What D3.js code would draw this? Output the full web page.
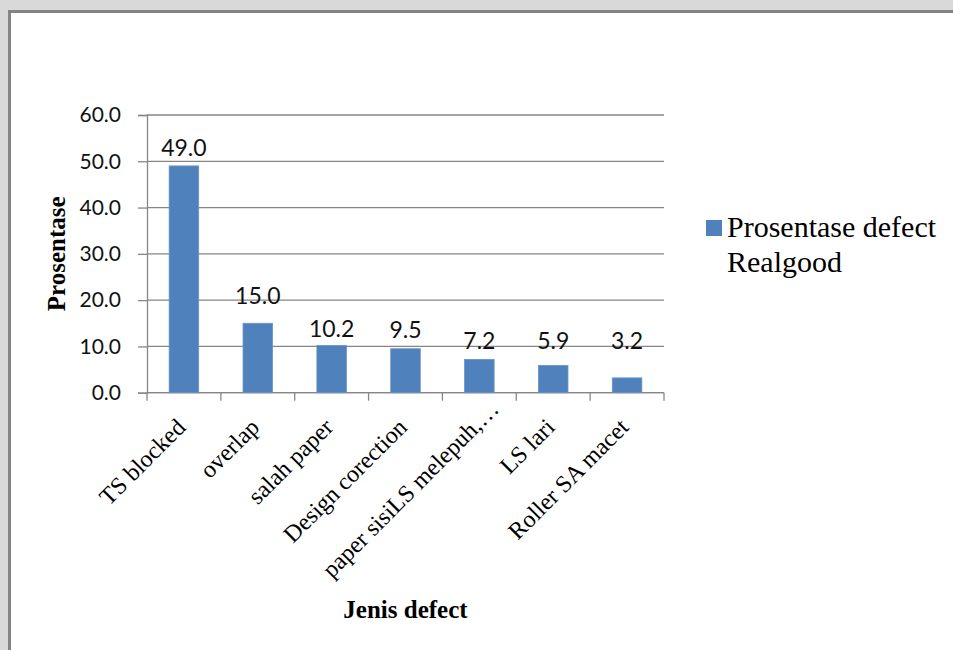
<!DOCTYPE html>
<html>
<head>
<meta charset="utf-8">
<script src="https://cdn.jsdelivr.net/npm/d3@7"></script>
<style>
  html, body { margin: 0; padding: 0; background: #d9d9d9; }
  svg { display: block; }
</style>
</head>
<body>
<svg id="chart" width="953" height="650"></svg>
<script>
// Defect categories and their share of all defects (%)
const categories = ["TS blocked", "overlap", "salah paper", "Design corection",
                    "paper sisiLS melepuh,…", "LS lari", "Roller SA macet"];
const percentages = [49.0, 15.0, 10.2, 9.5, 7.2, 5.9, 3.2];
const yTicks = [0, 10, 20, 30, 40, 50, 60];
const seriesName = ["Prosentase defect", "Realgood"];

// How far (px) each value label sits above its bar top
const labelLift = [10, 19, 8, 11, 10, 16, 29];

const svg = d3.select("#chart");

// Chart frame
svg.append("rect")
  .attr("x", 9.5).attr("y", 11.5)
  .attr("width", 960).attr("height", 660)
  .attr("fill", "#ffffff")
  .attr("stroke", "#848484").attr("stroke-width", 3);

const plot = { left: 147, right: 664, top: 115, bottom: 392.7 };

const x = d3.scaleBand()
  .domain(categories)
  .range([plot.left, plot.right])
  .paddingInner(0.6)
  .paddingOuter(0.3);

const y = d3.scaleLinear()
  .domain([0, 60])
  .range([plot.bottom, plot.top]);

const fmt = d3.format(".1f");
const gridColor = "#868686";

// Horizontal gridlines
svg.append("g")
  .selectAll("line")
  .data(yTicks)
  .join("line")
  .attr("x1", plot.left).attr("x2", plot.right)
  .attr("y1", d => y(d)).attr("y2", d => y(d))
  .attr("stroke", gridColor).attr("stroke-width", 1.3);

// Y axis
const yAxis = svg.append("g")
  .attr("transform", `translate(${plot.left},0)`)
  .call(d3.axisLeft(y).tickValues(yTicks).tickFormat(fmt).tickSize(9).tickPadding(17));
yAxis.select(".domain").attr("stroke", gridColor).attr("stroke-width", 1.3);
yAxis.selectAll(".tick line").attr("stroke", gridColor).attr("stroke-width", 1.3);
yAxis.selectAll(".tick text")
  .attr("font-family", "Lato, 'Open Sans', sans-serif")
  .attr("font-size", 21)
  .attr("fill", "#111");

// X axis baseline and category boundary ticks
const step = x.step();
const bounds = d3.range(categories.length + 1).map(i => plot.left + i * step);
svg.append("line")
  .attr("x1", plot.left).attr("x2", plot.right)
  .attr("y1", plot.bottom).attr("y2", plot.bottom)
  .attr("stroke", gridColor).attr("stroke-width", 1.3);
svg.append("g")
  .selectAll("line")
  .data(bounds)
  .join("line")
  .attr("x1", d => d).attr("x2", d => d)
  .attr("y1", plot.bottom).attr("y2", plot.bottom + 8)
  .attr("stroke", gridColor).attr("stroke-width", 1.3);

// Bars
svg.append("g")
  .selectAll("rect")
  .data(categories)
  .join("rect")
  .attr("x", d => x(d))
  .attr("y", (d, i) => y(percentages[i]))
  .attr("width", x.bandwidth())
  .attr("height", (d, i) => y(0) - y(percentages[i]))
  .attr("fill", "#4f81bd")
  .attr("stroke", "#6a93c7").attr("stroke-width", 0.8);

// Value labels
svg.append("g")
  .selectAll("text")
  .data(categories)
  .join("text")
  .attr("x", d => x(d) + x.bandwidth() / 2)
  .attr("y", (d, i) => y(percentages[i]) - labelLift[i])
  .attr("text-anchor", "middle")
  .attr("font-family", "Lato, 'Open Sans', sans-serif")
  .attr("font-size", 23)
  .attr("fill", "#111")
  .text((d, i) => fmt(percentages[i]));

// Rotated category labels; a truncated label (ending in an ellipsis)
// overhangs its slot a little further along the baseline
svg.append("g")
  .selectAll("text")
  .data(categories)
  .join("text")
  .attr("transform", d => {
    const shift = d.endsWith("…") ? 18 : 0;
    return `translate(${x(d) + x.bandwidth() / 2 - 3 + shift},${plot.bottom + 30 - shift}) rotate(-45)`;
  })
  .attr("text-anchor", "end")
  .attr("dy", "0.35em")
  .attr("font-family", "'Liberation Serif', 'Times New Roman', serif")
  .attr("font-size", 24)
  .attr("fill", "#000")
  .text(d => d);

// Axis titles
svg.append("text")
  .attr("x", (plot.left + plot.right) / 2)
  .attr("y", 618)
  .attr("text-anchor", "middle")
  .attr("font-family", "'Liberation Serif', 'Times New Roman', serif")
  .attr("font-weight", "bold")
  .attr("font-size", 25)
  .text("Jenis defect");

svg.append("text")
  .attr("transform", `translate(65,${(plot.top + plot.bottom) / 2}) rotate(-90)`)
  .attr("text-anchor", "middle")
  .attr("font-family", "'Liberation Serif', 'Times New Roman', serif")
  .attr("font-weight", "bold")
  .attr("font-size", 25)
  .text("Prosentase");

// Legend
const legend = svg.append("g").attr("transform", "translate(706,220)");
legend.append("rect")
  .attr("width", 16).attr("height", 16)
  .attr("fill", "#4f81bd");
legend.append("text")
  .attr("x", 21).attr("y", 17)
  .attr("font-family", "'Liberation Serif', 'Times New Roman', serif")
  .attr("font-size", 30)
  .selectAll("tspan")
  .data(seriesName)
  .join("tspan")
  .attr("x", 21)
  .attr("dy", (d, i) => i === 0 ? 0 : 34.5)
  .text(d => d);
</script>
</body>
</html>
